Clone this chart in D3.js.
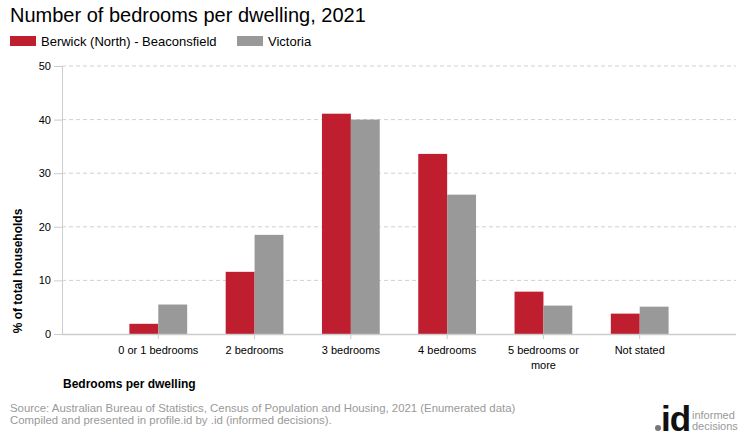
<!DOCTYPE html>
<html>
<head>
<meta charset="utf-8">
<script src="https://cdn.jsdelivr.net/npm/d3@7"></script>
<style>
  body { margin: 0; background: #fff; }
  svg { display: block; font-family: "Liberation Sans", Arial, sans-serif; }
</style>
</head>
<body>
<svg id="chart" width="740" height="440"></svg>
<script>
const categories = [["0 or 1 bedrooms"], ["2 bedrooms"], ["3 bedrooms"], ["4 bedrooms"], ["5 bedrooms or", "more"], ["Not stated"]];
const seriesNames = ["Berwick (North) - Beaconsfield", "Victoria"];
const berwick = [1.9, 11.6, 41.1, 33.6, 7.9, 3.8];
const victoria = [5.5, 18.5, 40.0, 26.0, 5.3, 5.1];
const yTicks = [0, 10, 20, 30, 40, 50];
const colors = ["#BE1E2D", "#999999"];

const svg = d3.select("#chart");
const plotLeft = 62, plotRight = 736, plotTop = 66, plotBottom = 334;

const catIdx = categories.map((d, i) => i);
const x0 = d3.scaleBand().domain(catIdx).range([plotLeft, plotRight]).paddingInner(0).paddingOuter(0.5);
const bw = x0.bandwidth();
const x1 = d3.scaleBand().domain([0, 1]).range([bw * 0.2, bw * 0.8]).padding(0);
const y = d3.scaleLinear().domain([0, 50]).range([plotBottom, plotTop]);

// Title
svg.append("text").attr("x", 10).attr("y", 22).attr("font-size", 20).attr("fill", "#000")
  .text("Number of bedrooms per dwelling, 2021");

// Legend
const legendX = [10, 237];
seriesNames.forEach((name, i) => {
  svg.append("rect").attr("x", legendX[i]).attr("y", 36).attr("width", 26).attr("height", 10).attr("fill", colors[i]);
  svg.append("text").attr("x", legendX[i] + 31).attr("y", 45.5).attr("font-size", 13).attr("fill", "#000").text(name);
});

// Y axis + gridlines
const yAxis = d3.axisLeft(y).tickValues(yTicks).tickSize(8).tickPadding(3);
const gy = svg.append("g").attr("transform", `translate(${plotLeft},0)`).call(yAxis);
gy.select(".domain").attr("stroke", "#ccc");
gy.selectAll(".tick line").attr("stroke", "#ccc");
gy.selectAll(".tick text").attr("font-size", 11).attr("fill", "#000").attr("font-family", "Liberation Sans, Arial, sans-serif");
svg.append("g").selectAll("line").data(yTicks.filter(d => d > 0)).join("line")
  .attr("x1", plotLeft).attr("x2", plotRight).attr("y1", d => y(d)).attr("y2", d => y(d))
  .attr("stroke", "#d0d0d0").attr("stroke-dasharray", "4,3");

// Bars
const data = [berwick, victoria];
const groups = svg.append("g").selectAll("g").data(catIdx).join("g")
  .attr("transform", i => `translate(${x0(i)},0)`);
groups.selectAll("rect").data(i => data.map((s, k) => ({ k, v: s[i] }))).join("rect")
  .attr("x", d => x1(d.k)).attr("width", x1.bandwidth())
  .attr("y", d => y(d.v)).attr("height", d => y(0) - y(d.v))
  .attr("fill", d => colors[d.k]);

// X axis
const gx = svg.append("g").attr("transform", `translate(0,${plotBottom})`);
gx.append("line").attr("x1", plotLeft).attr("x2", plotRight).attr("y1", 0.5).attr("y2", 0.5).attr("stroke", "#ccc").attr("stroke-width", 1.5);
gx.selectAll("line.tick").data(catIdx).join("line").attr("class", "tick")
  .attr("x1", i => x0(i) + bw / 2).attr("x2", i => x0(i) + bw / 2)
  .attr("y1", 0).attr("y2", 5).attr("stroke", "#ccc");
const labels = gx.selectAll("text.lbl").data(catIdx).join("text").attr("class", "lbl")
  .attr("text-anchor", "middle").attr("font-size", 11).attr("fill", "#000")
  .attr("x", i => x0(i) + bw / 2).attr("y", 20);
labels.each(function (i) {
  const t = d3.select(this);
  categories[i].forEach((ln, j) => {
    t.append("tspan").attr("x", x0(i) + bw / 2).attr("dy", j === 0 ? 0 : 15).text(ln);
  });
});

// Axis titles
svg.append("text").attr("x", 63).attr("y", 388).attr("font-size", 12).attr("font-weight", "bold").attr("fill", "#000")
  .text("Bedrooms per dwelling");
svg.append("text").attr("transform", `translate(22,271) rotate(-90)`)
  .attr("text-anchor", "middle").attr("font-size", 12).attr("font-weight", "bold").attr("fill", "#000")
  .text("% of total households");

// Footer
svg.append("text").attr("x", 10).attr("y", 412).attr("font-size", 11.4).attr("fill", "#999")
  .text("Source: Australian Bureau of Statistics, Census of Population and Housing, 2021 (Enumerated data)");
svg.append("text").attr("x", 10).attr("y", 424).attr("font-size", 11.4).attr("fill", "#999")
  .text("Compiled and presented in profile.id by .id (informed decisions).");

// Logo
svg.append("circle").attr("cx", 658).attr("cy", 428).attr("r", 3).attr("fill", "#777");
svg.append("text").attr("x", 661).attr("y", 431).attr("font-size", 35).attr("font-weight", "bold").attr("fill", "#111")
  .attr("letter-spacing", -1).text("id");
svg.append("text").attr("x", 692).attr("y", 419).attr("font-size", 11).attr("fill", "#999").text("informed");
svg.append("text").attr("x", 692).attr("y", 430).attr("font-size", 11).attr("fill", "#999").text("decisions");
</script>
</body>
</html>
